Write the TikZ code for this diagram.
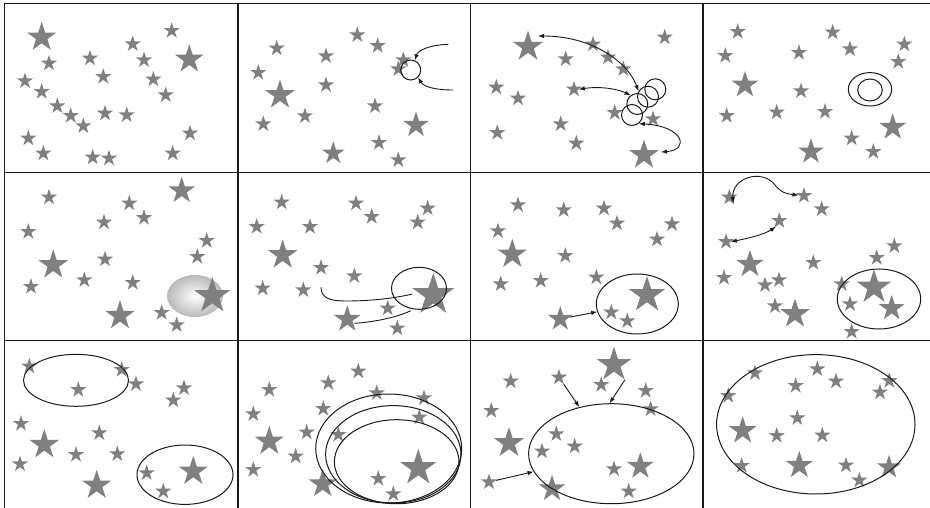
\documentclass[tikz,border=0pt]{standalone}
\usetikzlibrary{shapes.geometric,arrows.meta}
\definecolor{stargray}{RGB}{128,128,128}
\definecolor{ink}{RGB}{25,25,25}
\tikzset{
 st/.style={star,star points=5,star point ratio=2.618,fill=stargray,draw=none,inner sep=0pt,minimum size=#1},
 ell/.style={ellipse,draw=ink,line width=1pt,inner sep=0pt},
 rim/.style={circle,draw=ink,line width=1pt,inner sep=0pt},
 gridline/.style={draw=ink,line width=1.4pt},
 con/.style={draw=ink,line width=0.9pt},
 arr/.style={con,-{Latex[length=6pt,width=4.5pt]}},
 darr/.style={con,{Latex[length=6pt,width=4.5pt]}-{Latex[length=6pt,width=4.5pt]}},
}
\newcommand\starset[2]{\foreach \x/\y/\s [count=\i] in {#2} {\node[st=\s pt] (#1\i) at (\x,\y) {};}}
\begin{document}
\begin{tikzpicture}[x=1pt,y=-1pt]
\useasboundingbox (0,0) rectangle (930,507);
% panel 1
\starset{a}{41.7/37.3/31, 171.7/30.7/17, 132.7/44/17, 189.3/59.3/30, 49/63.3/17, 90/58.3/17, 144/60/17, 103.3/76.7/17, 25/81/17, 153.3/79.3/17, 41.7/91.7/17, 165.7/95/17, 57.3/106/17, 70.7/115.7/17, 83.3/126/17, 105/113.3/17, 126.7/115/17, 28.3/138.3/17, 190/133.3/17, 43.3/153.3/17, 172.7/153.3/17, 92.7/157.3/17, 109/158.3/17}
% panel 2
\starset{b}{276.7/48.3/17, 357.3/35/17, 377.7/45.7/17, 326/56/17, 403.3/60/17, 398.3/69/17, 258.3/72.7/17, 280/95/31, 326/85/17, 305/116/17, 375/106/17, 263.3/124/17, 416/125/27, 379/142.7/17, 333.3/153.3/24, 398.3/160/17}
\node[rim,minimum size=20pt] (bc) at (410.7,70) {};
\coordinate (bs1) at (448.3,44.3);
\coordinate (bs2) at (453.3,90);
\draw[arr] (bs1) .. controls (430,45) and (418,50) .. (bc.67);
\draw[arr] (bs2) .. controls (436,90) and (424,87) .. (bc.-46);
% panel 3
\starset{c}{528/46.7/32, 664.7/37.3/17, 593/44.3/17, 565.7/59/17, 608/57.3/17, 623.3/69/17, 496.3/87.3/17, 518/98.3/17, 574/89.3/17, 614.7/112.7/17, 653/119/17, 560.7/124/17, 497.3/132.7/17, 576.3/143.3/17, 644/155/31}
\node[rim,minimum size=21pt] (cc1) at (655.3,89.3) {};
\node[rim,minimum size=21pt] (cc2) at (648,96.7) {};
\node[rim,minimum size=21pt] (cc3) at (637.3,104) {};
\node[rim,minimum size=21pt] (cc4) at (632,115) {};
\draw[darr] ([shift={(10,-10.7)}]c1.center) .. controls (592,36) and (628,62) .. (cc2.150);
\draw[darr] (c9.east) .. controls (600,86) and (618,89) .. (cc3.128);
\draw[darr] ([shift={(17,-3)}]c15.center) .. controls (690,150) and (684,126) .. (cc4.-52);
% panel 4
\starset{d}{737.7/31.7/17, 832.7/32.3/17, 725.3/55.7/17, 799/52.7/17, 850/49/17, 904.3/44.3/17, 898.3/61.7/17, 745/85/28, 801/91/17, 726.7/115.7/17, 776.7/112.3/17, 825/111.7/17, 892.7/127.3/28, 851.7/138.3/17, 811/151.7/27, 873.3/151.7/17}
\node[ell,minimum width=43.4pt,minimum height=33.4pt] (do) at (870,89.3) {};
\node[ell,minimum width=24.6pt,minimum height=22pt] (di) at (870,90) {};
% panel 5
\starset{e}{49/197.3/17, 181.7/190.7/28, 129.3/203.3/17, 104/222.3/17, 144/217.7/17, 28.3/231.7/17, 206.7/240.7/17, 197.3/256.7/17, 53.3/265/31, 105/259.3/17, 84.3/280/17, 132.7/282.7/17, 31/286.7/17, 120/315.7/31, 161.7/312.7/17, 176.7/325/17}
\node[ellipse,inner sep=0pt,minimum width=56pt,minimum height=42pt,inner color=white,outer color=gray!55] (eb) at (195,296) {};
\node[st=38pt] (ex) at (212.3,296) {};
% panel 6
\starset{f}{281.7/202.3/17, 356/203.3/17, 371.7/216.7/17, 427.7/208.3/17, 417.7/222.3/17, 256.7/226.7/17, 310/226.7/17, 282.7/255/31, 321/267.7/17, 354.3/276/17, 262.7/288.3/17, 303.3/290/17, 387.7/308.3/17, 347.3/319.3/28, 397.3/328.3/17, 433.3/295/44}
\node[ell,minimum width=55pt,minimum height=42pt] (fe) at (419,288.3) {};
\draw[con] ([shift={(0,19.6)}]f9.center) .. controls (321,299) and (332,301) .. (346,301) .. controls (372,301) and (396,298) .. ([shift={(-21,-1)}]f16.center);
\draw[con] ([shift={(7,4)}]f14.center) .. controls (375,322) and (398,317) .. ([shift={(-22.6,15.7)}]f16.center);
% panel 7
\starset{g}{518/205/17, 563.7/210/17, 604/208.3/17, 617/223.3/17, 672/224/17, 657/239.3/17, 498/231/17, 512.3/254.3/31, 565.3/255.7/17, 596.3/277.3/17, 500.7/284/17, 540.7/280.7/17, 647/295/38, 611.3/312.3/17, 627.3/321/17, 560.3/319/26}
\node[ell,minimum width=82pt,minimum height=60pt] (ge) at (637.3,304) {};
\draw[arr] (g16) -- (ge);
% panel 8
\starset{h}{729.3/197.3/17, 804/195.7/17, 821.7/209/17, 779.3/220.7/17, 726/241.7/17, 894.3/246/17, 876.7/257.7/17, 750/264.3/29, 813.3/262.7/17, 724/277.7/17, 765/285/17, 779/280/17, 841.7/284/17, 874/287.3/36, 850/304/17, 891.7/308.3/27, 775/306/17, 795/314/31, 851.7/331.7/17}
\node[ell,minimum width=83.4pt,minimum height=60pt] (he) at (879,299) {};
\draw[darr] ([shift={(4,6)}]h1.center) .. controls (731,178) and (762,168) .. (775,185) .. controls (781,193) and (788,194) .. (h2.175);
\draw[darr] (h5.east) .. controls (750,238) and (765,234) .. (h4.-120);
% panel 9
\starset{i}{29.3/366.3/17, 121.7/369.7/17, 136/384/17, 78.3/389.7/17, 184/388/17, 173.3/400.3/17, 21/423.7/17, 99.3/433/17, 44.3/444.7/31, 76/454.7/17, 117.3/454/17, 20/464/17, 96.7/485.3/31, 146.7/473/17, 163.3/491.3/17, 193.3/471.3/31}
\node[ell,minimum width=105pt,minimum height=52pt] (ie1) at (76,380.3) {};
\node[ell,minimum width=96pt,minimum height=59.4pt] (ie2) at (185,474.7) {};
% panel 10
\starset{j}{358.3/371.3/17, 328.3/383/17, 269.3/389.7/17, 376.7/393/17, 424/398/17, 253.3/414/17, 323.3/408.7/17, 419.3/417.3/17, 306.7/432.3/17, 338.3/434.7/17, 269.3/441.3/31, 295.7/456.3/17, 253.3/469.7/17, 418.3/468/38, 378.3/478.7/17, 393.3/494/17, 322.7/484/30}
\node[ell,minimum width=146pt,minimum height=109pt] (je1) at (388.7,448.5) {};
\node[ell,minimum width=135.4pt,minimum height=97.4pt] (je2) at (393.3,454.3) {};
\node[ell,minimum width=124.6pt,minimum height=84pt] (je3) at (396.7,461.7) {};
% panel 11
\starset{k}{614/364.7/36, 559/377.3/17, 510.7/381.3/17, 601.3/384.7/17, 645.7/390.7/17, 650.7/409/17, 491.3/410.7/17, 556.3/434/17, 509/443/32, 574.7/446.3/17, 542/451.3/17, 614/469/17, 640.3/466.3/28, 628.7/491.3/17, 489/482/17, 552/488.7/28}
\node[ell,minimum width=165.4pt,minimum height=100pt] (ke) at (611.3,453.7) {};
\draw[arr] (k2) -- (ke);
\draw[arr] (k1.-54) -- (ke.92);
\draw[arr] (k15) -- (ke);
% panel 12
\starset{l}{755/373/17, 817.3/369/17, 795.7/385.7/17, 836/381.3/17, 889.3/380.7/17, 880/392.3/17, 728.3/395.7/17, 797.3/418/17, 742.7/430.7/29, 776.7/435.7/17, 822.3/435.3/17, 741.7/465.7/17, 799.3/465.3/29, 846/465.3/17, 859.3/480.3/17, 889/467.3/25}
\node[ell,minimum width=198.4pt,minimum height=139.4pt] (le) at (815.8,424.3) {};
% grid
\draw[gridline] (4.7,3.3) -- (935,3.3);
\draw[gridline] (4.7,172.5) -- (935,172.5);
\draw[gridline] (4.7,340.7) -- (935,340.7);
\draw[gridline] (4.7,3.3) -- (4.7,510);
\draw[gridline] (238,3.3) -- (238,510);
\draw[gridline] (470.7,3.3) -- (470.7,510);
\draw[gridline] (703,3.3) -- (703,510);
\end{tikzpicture}
\end{document}
